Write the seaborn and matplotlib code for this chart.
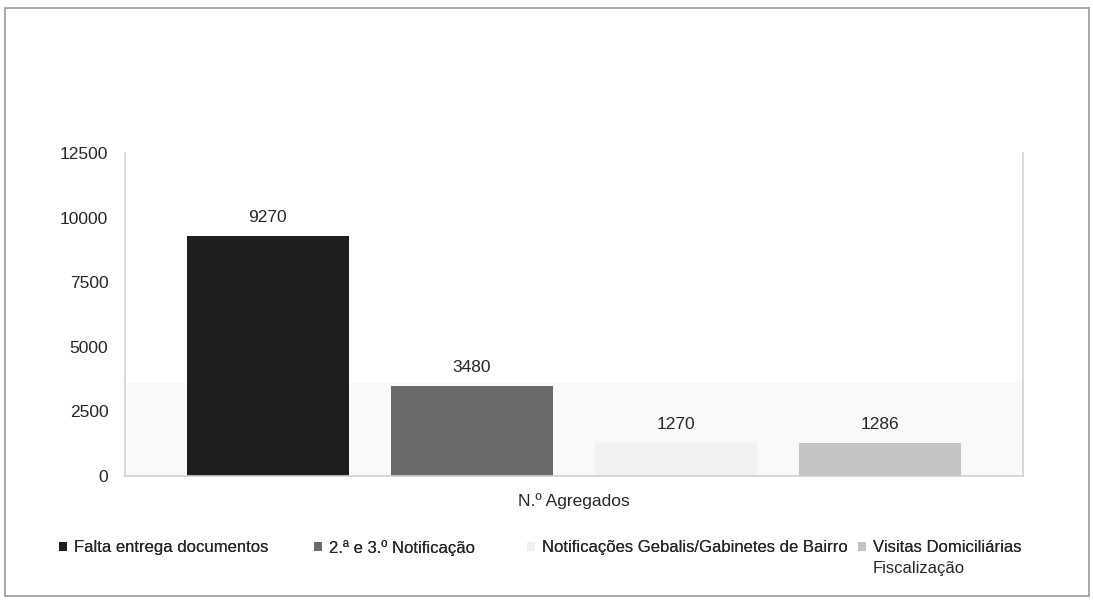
import matplotlib
matplotlib.use("Agg")
import matplotlib.pyplot as plt
from matplotlib.patches import Rectangle
import seaborn as sns
import pandas as pd

# Series shown in the chart
tipos = [
    "Falta entrega documentos",
    "2.ª e 3.º Notificação",
    "Notificações Gebalis/Gabinetes de Bairro",
    "Visitas Domiciliárias",
]
tipo_extra = "Fiscalização"  # second line of the last legend entry
valores = [9270, 3480, 1270, 1286]
grupo = ["N.º Agregados"] * len(tipos)
y_ticks = [0, 2500, 5000, 7500, 10000, 12500]
cores = ["#1e1e1e", "#6a6a6a", "#f1f1f1", "#c3c3c3"]

df = pd.DataFrame({"grupo": grupo, "tipo": tipos, "valor": valores})

sns.set_theme(style="white")
plt.rcParams["font.family"] = ["Liberation Sans", "DejaVu Sans"]

W, H = 1093, 601
fig = plt.figure(figsize=(W / 100, H / 100), dpi=100)
fig.patch.set_facecolor("white")

ax = fig.add_axes([125 / W, 1 - 476 / H, (1023 - 125) / W, (476 - 153) / H])
ax.set_facecolor("white")

# faint lower band behind the bars
ax.axhspan(0, 3600, color="#f9f9f9", zorder=0, lw=0)

sns.barplot(data=df, x="grupo", y="valor", hue="tipo", hue_order=tipos,
            palette=cores, width=0.909, gap=0.21, saturation=1,
            edgecolor="none", linewidth=0, ax=ax, zorder=2)

for cont in ax.containers:
    ax.bar_label(cont, fmt="%d", padding=8, fontsize=12.5, color="#262626")

ax.set_ylim(0, 12500)
ax.set_xlim(-0.5, 0.5)
ax.set_yticks(y_ticks)
ax.set_yticklabels([str(v) for v in y_ticks])
ax.set_xlabel("")
ax.set_ylabel("")
ax.tick_params(axis="y", length=0, pad=12, labelsize=12.5, labelcolor="#262626")
ax.tick_params(axis="x", length=0, pad=12, labelsize=12.5, labelcolor="#262626")

for side in ["left", "bottom", "right"]:
    ax.spines[side].set_visible(True)
    ax.spines[side].set_color("#d0d0d0")
    ax.spines[side].set_linewidth(1.2)
ax.spines["top"].set_visible(False)

handles, labels = ax.get_legend_handles_labels()
if ax.get_legend() is not None:
    ax.get_legend().remove()

# legend entries placed individually along the bottom
x_starts = [59, 314, 527, 858]
leg_top = 1 - 540 / H
for h, lab, xs in zip(handles, labels, x_starts):
    leg = fig.legend([h], [lab], loc="upper left",
                     bbox_to_anchor=(xs / W, leg_top),
                     frameon=False, fontsize=12, handlelength=0.45,
                     handleheight=0.45, handletextpad=0.45,
                     borderpad=0, borderaxespad=0, labelcolor="#262626")
    fig.add_artist(leg)

fig.text(873 / W, 1 - 568 / H, tipo_extra, fontsize=12, color="#262626",
         ha="left", va="center")

# outer chart border
fig.add_artist(Rectangle((5 / W, 1 - 596 / H), (1089 - 5) / W, (596 - 8) / H,
                         transform=fig.transFigure, fill=False,
                         edgecolor="#9a9a9a", linewidth=1.2))

fig.savefig("out.png", dpi=100)
